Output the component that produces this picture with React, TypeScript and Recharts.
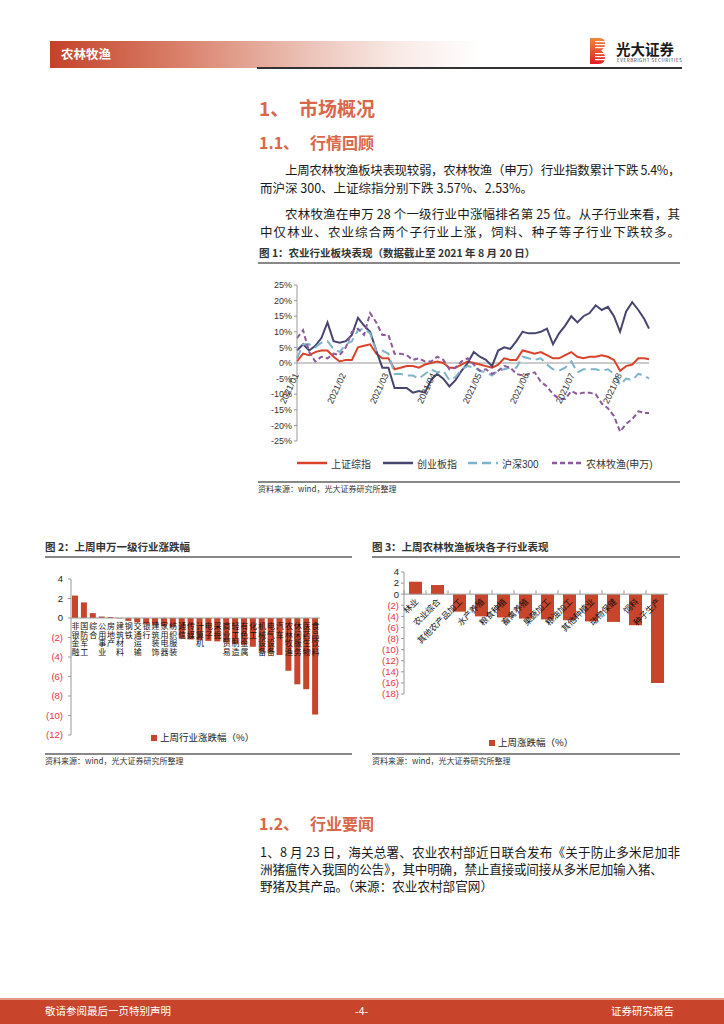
import React from 'react';
import { LineChart, Line, BarChart, Bar, XAxis, YAxis, ReferenceLine } from 'recharts';

const FONT = "'Liberation Sans', 'Noto Sans CJK SC', sans-serif";
const CJK = "'Noto Sans CJK SC', sans-serif";
const BRAND = '#c8442a';
const HEAD = '#d9674a';

// 图1: sampled every few days from 2021-01-01 to 2021-08-20 (%)
const lineDates = [
  '2021-01-01', '2021-01-05', '2021-01-09', '2021-01-13', '2021-01-17', '2021-01-21', '2021-01-25', '2021-01-29',
  '2021-02-02', '2021-02-06', '2021-02-10', '2021-02-14', '2021-02-18', '2021-02-22', '2021-02-26',
  '2021-03-02', '2021-03-06', '2021-03-10', '2021-03-14', '2021-03-18', '2021-03-22', '2021-03-26', '2021-03-30',
  '2021-04-03', '2021-04-07', '2021-04-11', '2021-04-15', '2021-04-19', '2021-04-23', '2021-04-27',
  '2021-05-01', '2021-05-05', '2021-05-09', '2021-05-13', '2021-05-17', '2021-05-21', '2021-05-25', '2021-05-29',
  '2021-06-02', '2021-06-06', '2021-06-10', '2021-06-14', '2021-06-18', '2021-06-22', '2021-06-26', '2021-06-30',
  '2021-07-04', '2021-07-08', '2021-07-12', '2021-07-16', '2021-07-20', '2021-07-24', '2021-07-28',
  '2021-08-01', '2021-08-05', '2021-08-09', '2021-08-13', '2021-08-17', '2021-08-20',
];
const shComposite = [
  0.5, 3, 2.5, 3.5, 4, 4, 2, 0.5, 1, 1, 5, 5.5, 6, 3, 1.5, 1.5, -2, -1.5, -1, -1, -1.5, -0.5, 0,
  0.5, 0, -1.5, -1.5, -0.5, 0.5, 0, -0.5, -1, -1.5, -0.5, 1.5, 1, 1, 4, 3.5, 3, 3.5, 2.5, 1.5, 1.5,
  2.5, 3.5, 2, 1.5, 2, 2, 2.5, 2, 1, -2.5, -1, -0.5, 1.5, 1.5, 1.2,
];
const chinext = [
  4, 6, 4, 5.5, 8, 13, 7, 6.5, 7, 9, 14.5, 12, 10, 4, -1.5, -1.5, -8, -8, -8, -9.5, -9, -9.5, -5.5,
  -3.5, -5, -7.5, -5.5, -2.5, 0, 3.5, 2, 1, -1, 4, 5, 4.5, 7, 10, 9.5, 9.5, 10, 11, 6, 9.5,
  12, 15, 13, 15, 16, 18.5, 17, 18, 15, 10, 16.5, 19.5, 17, 14, 11,
];
const csi300 = [
  1.5, 6, 6, 5, 6.5, 7, 4.5, 3.5, 6, 7, 10.5, 11, 9.5, 4, 4, 3, -3.5, -3.5, -4, -4, -5, -3.5, -2,
  -3, -2.5, -5.5, -4.5, -2, -1, -1.5, -2.5, -3, -4, -2.5, -2, -1.5, -1.5, 2, 1.5, 1, 1.5, -0.5, -2, -2.5,
  -1.5, 0.5, -3, -2, -2, -2, -2.5, -2, -3.5, -7, -5, -5.5, -3.5, -4, -5,
];
const agriSw = [
  8, 10.5, 3.5, 0.5, 2, 1.5, 3, 2.5, 5, 10, 11, 9, 16, 13, 9, 9, 3, 3, 2.5, 1, 1.5, 0.5, 0.5,
  2, 1, -2, -1.5, 0.5, 1.5, -0.5, -2.5, -2, -3.5, -2.5, -1, -1.5, -3.5, -4, -3.5, -3, -6, -7.5, -10, -11.5,
  -11.5, -9, -10, -9.5, -9.5, -10, -13, -14.5, -17, -22, -19.5, -18, -15.5, -16, -16,
];
const seriesNames = ['上证综指', '创业板指', '沪深300', '农林牧渔(申万)'];
const monthTicks = ['2021-01-01', '2021-02-01', '2021-03-01', '2021-04-01', '2021-05-01', '2021-06-01', '2021-07-01', '2021-08-01'];
const monthLabels = ['2021/01', '2021/02', '2021/03', '2021/04', '2021/05', '2021/06', '2021/07', '2021/08'];
const pctTicks = [-25, -20, -15, -10, -5, 0, 5, 10, 15, 20, 25];

// 图2: 申万一级行业上周涨跌幅 (%)
const swIndustries = [
  '非银金融', '国防军工', '综合', '公用事业', '房地产', '建筑材料', '钢铁', '交通运输', '银行', '建筑装饰',
  '家用电器', '纺织服装', '通信', '传媒', '计算机', '电子', '采掘', '商业贸易', '轻工制造', '有色金属',
  '化工', '机械设备', '电气设备', '汽车', '农林牧渔', '休闲服务', '医药生物', '食品饮料',
];
const swChange = [
  2.3, 1.6, 0.5, 0.15, 0.1, -0.05, -0.3, -0.45, -0.6, -0.7,
  -0.85, -0.95, -2.1, -2.2, -2.3, -2.35, -2.4, -2.5, -2.65, -2.75,
  -2.95, -3.4, -3.5, -3.8, -5.4, -6.8, -7.3, -9.9,
];
const swTicks = [-12, -10, -8, -6, -4, -2, 0, 2, 4];

// 图3: 农林牧渔子行业上周涨跌幅 (%)
const subIndustries = [
  '林业', '农业综合', '其他农产品加工', '水产养殖', '粮食种植', '畜禽养殖',
  '果蔬加工', '粮油加工', '其他种植业', '动物保健', '饲料', '种子生产',
];
const subChange = [2.25, 1.65, -3.15, -4.0, -4.2, -4.4, -4.55, -4.7, -4.9, -5.0, -5.6, -16.0];
const subTicks = [-18, -16, -14, -12, -10, -8, -6, -4, -2, 0, 2, 4];

const dayOf = (d: string) => (Date.parse(d) - Date.parse('2021-01-01')) / 86400000;

const lineData = lineDates.map((d, i) => ({
  day: dayOf(d), sh: shComposite[i], cyb: chinext[i], hs: csi300[i], agri: agriSw[i],
}));
const swData = swIndustries.map((name, i) => ({ name, value: swChange[i] }));
const subData = subIndustries.map((name, i) => ({ name, value: subChange[i] }));

const lineStyles = [
  { key: 'sh', color: '#d9432a', dash: undefined },
  { key: 'cyb', color: '#46456f', dash: undefined },
  { key: 'hs', color: '#7fb3c8', dash: '9 5' },
  { key: 'agri', color: '#8b5a9b', dash: '5 3' },
];

// chart geometry
const C1 = { w: 420, h: 175, top: 10, bottom: 8, right: 21, yw: 47 };
const c1Zero = C1.top + (C1.h - C1.top - C1.bottom - 1) / 2;
const C2 = { w: 300, h: 175, top: 9, bottom: 9, right: 10, yw: 41 };
const c2Zero = C2.top + (C2.h - C2.top - C2.bottom - 1) * 4 / 16;
const C3 = { w: 320, h: 145, top: 10, bottom: 12, right: 12, yw: 44 };
const c3Zero = C3.top + (C3.h - C3.top - C3.bottom - 1) * 4 / 22;
const c3Band = (C3.w - C3.yw - C3.right) / subIndustries.length;

function DateTick({ x, payload }: any) {
  const i = monthTicks.map(dayOf).indexOf(payload.value);
  const ax = x + 2;
  const ay = c1Zero + 12;
  return (
    <text x={ax} y={ay} transform={`rotate(-65 ${ax} ${ay})`} textAnchor="end" fontSize={9} fill="#333" fontFamily={FONT}>
      {monthLabels[i]}
    </text>
  );
}

function ParenTick({ x, y, payload, size = 9.5 }: any) {
  const v = payload.value;
  return (
    <text x={x} y={y} dy="0.355em" textAnchor="end" fontSize={size} fill={v < 0 ? '#e8333a' : '#222'} fontFamily={FONT}>
      {v < 0 ? `(${-v})` : v}
    </text>
  );
}

// vertical label: characters run top to bottom under the zero line
function StackTick({ x, payload }: any) {
  return (
    <text x={x} y={c2Zero + 4} fontSize={8} fill="#111" fontFamily={CJK} letterSpacing={0.6}
      style={{ writingMode: 'vertical-rl', textOrientation: 'upright' } as any}>
      {payload.value}
    </text>
  );
}

function SlantTick({ x, payload }: any) {
  const ax = x + 4;
  const ay = c3Zero + 8;
  const bx = x - c3Band / 2;
  return (
    <g>
      <line x1={bx} x2={bx} y1={c3Zero} y2={c3Zero - 4} stroke="#999" />
      <text x={ax} y={ay} transform={`rotate(-45 ${ax} ${ay})`} textAnchor="end" fontSize={8.5} fill="#111" fontFamily={CJK}>
        {payload.value}
      </text>
    </g>
  );
}

function TextLine({ x, y, w, size = 12.5, justify = false, color = '#1a1a1a', weight = 400, ls = 0, children }: any) {
  return (
    <div
      style={{
        position: 'absolute', left: x, top: y - size * 0.7, width: w, fontSize: size,
        lineHeight: `${size * 1.4}px`, color, fontWeight: weight, letterSpacing: ls,
        whiteSpace: justify ? 'normal' : 'nowrap', textAlign: justify ? 'justify' : 'left',
        textAlignLast: justify ? 'justify' : 'auto', height: size * 1.4, overflow: 'visible',
      }}
    >
      {children}
    </div>
  );
}

function Rule({ x, y, w, color = '#888', t = 1.5 }: any) {
  return <div style={{ position: 'absolute', left: x, top: y, width: w, height: t, background: color }} />;
}

function MarketLines() {
  return (
    <LineChart width={C1.w} height={C1.h} data={lineData} margin={{ top: C1.top, right: C1.right, left: 0, bottom: C1.bottom }}>
      <XAxis dataKey="day" type="number" domain={[0, 231]} ticks={monthTicks.map(dayOf)} height={1}
        axisLine={false} tickLine={false} tick={(p: any) => <DateTick {...p} />} interval={0} />
      <YAxis domain={[-25, 25]} ticks={pctTicks} width={C1.yw} axisLine={{ stroke: '#999' }} tickSize={3}
        tickLine={{ stroke: '#999' }} tickFormatter={(v: number) => `${v}%`}
        tick={{ fontSize: 9, fill: '#333', fontFamily: FONT }} interval={0} />
      <ReferenceLine y={0} stroke="#999" />
      {lineStyles.map((s, i) => (
        <Line key={s.key} dataKey={s.key} name={seriesNames[i]} stroke={s.color} strokeWidth={2}
          strokeDasharray={s.dash} dot={false} type="linear" isAnimationActive={false} />
      ))}
    </LineChart>
  );
}

function IndustryBars() {
  return (
    <BarChart width={C2.w} height={C2.h} data={swData} margin={{ top: C2.top, right: C2.right, left: 0, bottom: C2.bottom }}>
      <XAxis dataKey="name" height={1} axisLine={false} tickLine={false} interval={0} tick={(p: any) => <StackTick {...p} />} />
      <YAxis domain={[-12, 4]} ticks={swTicks} width={C2.yw} axisLine={{ stroke: '#999' }} tickSize={3}
        tickLine={{ stroke: '#999' }} tickMargin={5} interval={0} tick={(p: any) => <ParenTick {...p} size={9.5} />} />
      <ReferenceLine y={0} stroke="#999" />
      <Bar dataKey="value" fill={BRAND} barSize={6} isAnimationActive={false} />
    </BarChart>
  );
}

function SubBars() {
  return (
    <BarChart width={C3.w} height={C3.h} data={subData} margin={{ top: C3.top, right: C3.right, left: 0, bottom: C3.bottom }}>
      <XAxis dataKey="name" height={1} axisLine={false} tickLine={false} interval={0} tick={(p: any) => <SlantTick {...p} />} />
      <YAxis domain={[-18, 4]} ticks={subTicks} width={C3.yw} axisLine={{ stroke: '#999' }} tickSize={3}
        tickLine={{ stroke: '#999' }} tickMargin={2} interval={0} tick={(p: any) => <ParenTick {...p} size={9.5} />} />
      <ReferenceLine y={0} stroke="#999" />
      <Bar dataKey="value" fill={BRAND} barSize={13} isAnimationActive={false} />
    </BarChart>
  );
}

const legendX = [297, 383, 468, 552];

export default function App() {
  return (
    <div style={{ position: 'absolute', left: 0, top: 0, width: 724, height: 1024, background: '#fff', overflow: 'hidden', fontFamily: CJK }}>
      {/* header */}
      <div style={{ position: 'absolute', left: 50, top: 41, width: 431, height: 27,
        background: 'linear-gradient(to right, #c4412a 0%, #d9806a 30%, #ecc3b8 60%, #f8e9e5 80%, #ffffff 100%)' }} />
      <TextLine x={61} y={54} size={12.5} color="#fff" weight={700}>农林牧渔</TextLine>
      <Rule x={257} y={67} w={425} color="#333" t={1.5} />
      <svg width={16} height={26} style={{ position: 'absolute', left: 590, top: 38 }}>
        <defs>
          <linearGradient id="logoG" x1="0" y1="0" x2="0" y2="1">
            <stop offset="0" stopColor="#f0883a" />
            <stop offset="1" stopColor="#e01f2a" />
          </linearGradient>
        </defs>
        <path d="M0 0 H10 Q15 0 15 6 Q15 10 11 12.5 Q15 15 15 19.5 Q15 26 9 26 H0 Z" fill="url(#logoG)" />
        {[3, 6, 9, 15, 18, 21].map((y) => (
          <rect key={y} x={5} y={y} width={11} height={1.2} fill="#fff" />
        ))}
      </svg>
      <TextLine x={616} y={49} size={14.5} color="#1a1a1a" weight={700}>光大证券</TextLine>
      <TextLine x={617} y={60} size={4.5} color="#333" ls={0.6}>EVERBRIGHT SECURITIES</TextLine>

      {/* section 1 */}
      <TextLine x={259} y={108} size={19} color={HEAD} weight={700}>1、</TextLine>
      <TextLine x={299} y={108} size={19} color={HEAD} weight={700}>市场概况</TextLine>
      <TextLine x={259} y={142} size={16} color={HEAD} weight={700}>1.1、</TextLine>
      <TextLine x={310} y={142} size={16} color={HEAD} weight={700}>行情回顾</TextLine>

      <TextLine x={285} y={170} w={395} justify ls={-0.4}>上周农林牧渔板块表现较弱，农林牧渔（申万）行业指数累计下跌 5.4%，</TextLine>
      <TextLine x={260} y={188}>而沪深 300、上证综指分别下跌 3.57%、2.53%。</TextLine>
      <TextLine x={285} y={214} w={395} justify>农林牧渔在申万 28 个一级行业中涨幅排名第 25 位。从子行业来看，其</TextLine>
      <TextLine x={260} y={232} w={420} justify>中仅林业、农业综合两个子行业上涨，饲料、种子等子行业下跌较多。</TextLine>

      <TextLine x={259} y={253} size={10.5} color="#333" weight={700}>图 1：农业行业板块表现（数据截止至 2021 年 8 月 20 日）</TextLine>
      <Rule x={258} y={262} w={422} />

      <div style={{ position: 'absolute', left: 250, top: 275 }}>
        <MarketLines />
      </div>
      {lineStyles.map((s, i) => (
        <div key={s.key} style={{ position: 'absolute', left: legendX[i], top: 457, height: 12, display: 'flex', alignItems: 'center' }}>
          <svg width={30} height={4}>
            <line x1={0} x2={30} y1={2} y2={2} stroke={s.color} strokeWidth={2.5} strokeDasharray={s.dash} />
          </svg>
          <span style={{ fontSize: 10, color: '#333', marginLeft: 4, fontFamily: FONT }}>{seriesNames[i]}</span>
        </div>
      ))}
      <Rule x={258} y={481} w={422} />
      <TextLine x={258} y={489} size={8} color="#333">资料来源：wind，光大证券研究所整理</TextLine>

      {/* figure 2 */}
      <TextLine x={45} y={547} size={10.5} color="#333" weight={700}>图 2：上周申万一级行业涨跌幅</TextLine>
      <Rule x={45} y={556} w={307} />
      <div style={{ position: 'absolute', left: 30, top: 570 }}>
        <IndustryBars />
      </div>
      <div style={{ position: 'absolute', left: 151, top: 735, width: 6, height: 6, background: BRAND }} />
      <TextLine x={160} y={738} size={9.5} color="#222">上周行业涨跌幅（%）</TextLine>
      <Rule x={45} y={753} w={307} />
      <TextLine x={45} y={761} size={8} color="#333">资料来源：wind，光大证券研究所整理</TextLine>

      {/* figure 3 */}
      <TextLine x={372} y={547} size={10.5} color="#333" weight={700}>图 3：上周农林牧渔板块各子行业表现</TextLine>
      <Rule x={372} y={556} w={308} />
      <div style={{ position: 'absolute', left: 360, top: 562 }}>
        <SubBars />
      </div>
      <div style={{ position: 'absolute', left: 489, top: 740, width: 6, height: 6, background: BRAND }} />
      <TextLine x={498} y={743} size={9.5} color="#222">上周涨跌幅（%）</TextLine>
      <Rule x={372} y={753} w={308} />
      <TextLine x={372} y={761} size={8} color="#333">资料来源：wind，光大证券研究所整理</TextLine>

      {/* section 1.2 */}
      <TextLine x={259} y={823} size={16} color={HEAD} weight={700}>1.2、</TextLine>
      <TextLine x={310} y={823} size={16} color={HEAD} weight={700}>行业要闻</TextLine>
      <TextLine x={260} y={852} w={420} size={12.6} justify>1、8 月 23 日，海关总署、农业农村部近日联合发布《关于防止多米尼加非</TextLine>
      <TextLine x={260} y={869} size={12.6} ls={-0.2}>洲猪瘟传入我国的公告》，其中明确，禁止直接或间接从多米尼加输入猪、</TextLine>
      <TextLine x={260} y={886} size={12.6}>野猪及其产品。（来源：农业农村部官网）</TextLine>

      {/* footer */}
      <div style={{ position: 'absolute', left: 0, top: 998, width: 724, height: 26, background: BRAND,
        borderTop: '2px solid #e59a84', boxSizing: 'border-box' }} />
      <TextLine x={45} y={1011} size={10.5} color="#fff">敬请参阅最后一页特别声明</TextLine>
      <TextLine x={355} y={1011} size={10.5} color="#fff">-4-</TextLine>
      <TextLine x={611} y={1011} size={10.5} color="#fff">证券研究报告</TextLine>
    </div>
  );
}
